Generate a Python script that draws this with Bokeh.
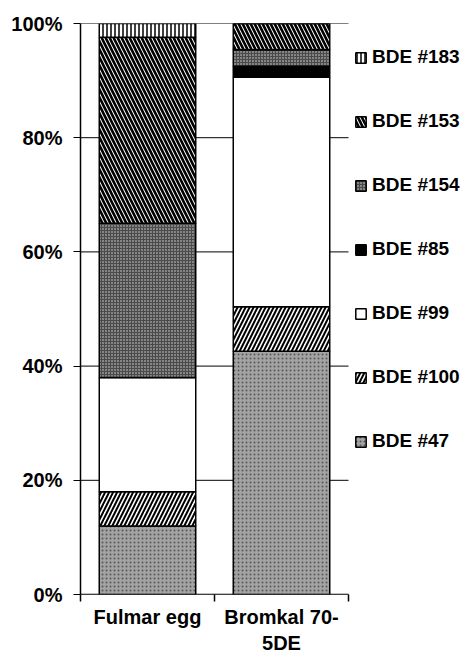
from bokeh.plotting import figure
from bokeh.models import Range1d, FixedTicker, Legend, LegendItem, ColumnDataSource
from bokeh.transform import stack
from bokeh.embed import file_html
from bokeh.resources import INLINE

categories = ["Fulmar egg", "Bromkal 70-\n5DE"]
x_pos = [0.5, 1.5]
bde47 = [12.0, 42.6]
bde100 = [6.0, 7.8]
bde99 = [20.0, 40.2]
bde85 = [0.0, 1.9]
bde154 = [27.0, 2.9]
bde153 = [32.6, 4.6]
bde183 = [2.4, 0.0]
series_names = ["BDE #47", "BDE #100", "BDE #99", "BDE #85", "BDE #154", "BDE #153", "BDE #183"]
y_ticks = [0, 20, 40, 60, 80, 100]
y_tick_labels = ["0%", "20%", "40%", "60%", "80%", "100%"]

keys = ["b47", "b100", "b99", "b85", "b154", "b153", "b183"]
src = ColumnDataSource(dict(x=x_pos, b47=bde47, b100=bde100, b99=bde99, b85=bde85,
                            b154=bde154, b153=bde153, b183=bde183))

FONT = "Liberation Sans"
n_cat = len(categories)
# frame covers categories plus blank room for the legend (380 px, 134 px per category)
x_end = n_cat * 380.0 / 268.0

p = figure(width=460, height=656, output_backend="svg", toolbar_location=None,
           x_range=Range1d(0, x_end), y_range=Range1d(0, 100),
           min_border_left=80, min_border_right=0, min_border_top=23, min_border_bottom=40)
p.outline_line_color = None
p.xgrid.visible = False
p.ygrid.visible = False

# horizontal grid lines only across the category area
grid_src = ColumnDataSource(dict(y=y_ticks, x0=[0] * len(y_ticks), x1=[n_cat] * len(y_ticks)))
p.segment(x0="x0", x1="x1", y0="y", y1="y", source=grid_src, line_color="black", line_width=1, level="underlay")
p.segment(x0=[0], x1=[n_cat], y0=[0], y1=[0], line_color="black", line_width=1.5)

styles = [
    dict(fill_color="#a3a3a3", hatch_pattern=".", hatch_color="#555555", hatch_scale=4, hatch_weight=1),
    dict(fill_color="white", hatch_pattern="/", hatch_color="black", hatch_scale=8, hatch_weight=2),
    dict(fill_color="white"),
    dict(fill_color="black"),
    dict(fill_color="#858585", hatch_pattern="+", hatch_color="#4a4a4a", hatch_scale=3, hatch_weight=1),
    dict(fill_color="white", hatch_pattern="\\", hatch_color="black", hatch_scale=8, hatch_weight=2.6),
    dict(fill_color="white", hatch_pattern="|", hatch_color="black", hatch_scale=4, hatch_weight=1.5),
]

renderers = []
for i, k in enumerate(keys):
    r = p.vbar(x="x", width=0.72, bottom=stack(*keys[:i]), top=stack(*keys[:i + 1]), source=src,
               line_color="black", line_width=1.5, **styles[i])
    renderers.append(r)

p.yaxis.ticker = FixedTicker(ticks=y_ticks)
p.yaxis.major_label_overrides = {t: l for t, l in zip(y_ticks, y_tick_labels)}
p.yaxis.major_tick_in = 0
p.yaxis.major_tick_out = 7
p.yaxis.axis_line_width = 1.5
p.yaxis.major_label_standoff = 11

p.xaxis.ticker = FixedTicker(ticks=x_pos, minor_ticks=[0, 1, 2])
p.xaxis.major_label_overrides = {t: l for t, l in zip(x_pos, categories)}
p.xaxis.major_tick_in = 0
p.xaxis.major_tick_out = 0
p.xaxis.minor_tick_in = 0
p.xaxis.minor_tick_out = 7
p.xaxis.major_label_standoff = 4

for ax in (p.xaxis[0], p.yaxis[0]):
    ax.major_label_text_font = FONT
    ax.major_label_text_font_style = "bold"
    ax.major_label_text_font_size = "20px"
    ax.major_label_text_color = "black"
    ax.major_tick_line_color = "black"
p.yaxis.axis_line_color = "black"
p.xaxis.axis_line_color = None
p.xaxis.minor_tick_line_color = "black"
p.xaxis.minor_tick_line_width = 1.5
p.yaxis.minor_tick_line_color = None

items = [LegendItem(label=series_names[i], renderers=[renderers[i]]) for i in reversed(range(len(keys)))]
legend = Legend(items=items, location=(274, 142), padding=0, margin=0,
                border_line_alpha=0, background_fill_alpha=0,
                glyph_width=13, glyph_height=13, label_standoff=5,
                label_text_font=FONT, label_text_font_style="bold", label_text_font_size="19px",
                label_text_color="black", label_height=20, spacing=42)
p.add_layout(legend, "center")

open("out.html", "w").write(file_html(p, INLINE))
